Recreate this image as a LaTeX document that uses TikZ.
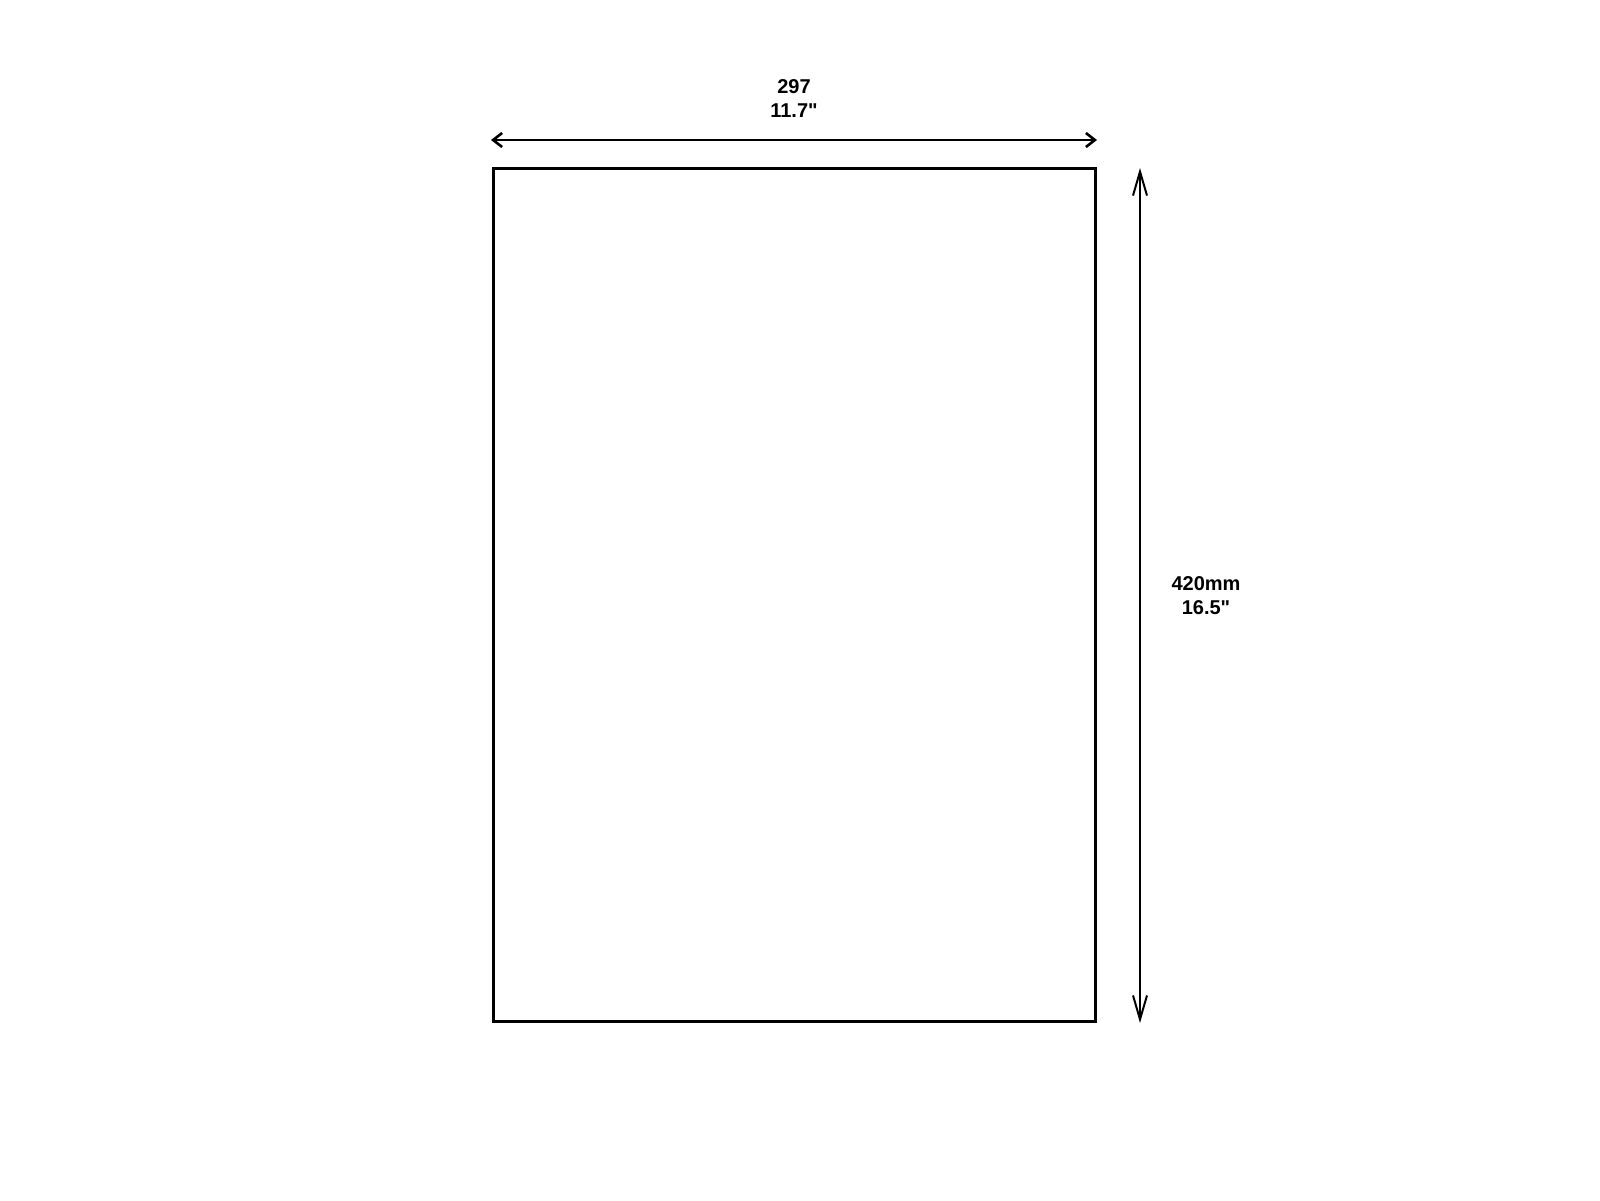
\documentclass[tikz,border=0pt]{standalone}
\usepackage{fontspec}
\setmainfont{Liberation Sans}
\usetikzlibrary{arrows.meta}

\tikzset{every picture/.style={line width=0.75pt}}
\tikzset{dimline/.style={line width=1pt,{Straight Barb[length=4.5pt,width=7pt,line width=1.3pt]}-{Straight Barb[length=4.5pt,width=7pt,line width=1.3pt]}}}
\tikzset{tallline/.style={line width=1pt,{Straight Barb[length=12pt,width=7pt]}-{Straight Barb[length=12pt,width=7pt]}}}
\tikzset{dimtext/.style={inner sep=0.75pt,align=center,font=\fontsize{10}{12}\selectfont\bfseries}}

\begin{document}
\begin{tikzpicture}[x=0.5pt,y=0.5pt,yscale=-1,xscale=1]
\useasboundingbox (0,0) rectangle (1600,1200); %set diagram size 1600 x 1200

%Shape: Rectangle [id:sheet] 
\draw [line width=1.5pt] (493,168.5) rectangle (1095,1021.5) ;

%Straight Lines [id:width] 
\coordinate (wl) at (491,140) ;
\coordinate (wr) at (1097,140) ;
\draw [dimline] (wl) -- (wr) ;

%Straight Lines [id:height] 
\coordinate (ht) at (1140,168) ;
\coordinate (hb) at (1140,1023) ;
\draw [tallline] (ht) -- (hb) ;

% Text Node
\node [dimtext] (wlabel) at (794,99) {297\\11.7\textquotedbl};
% Text Node
\node [dimtext] (hlabel) at (1206,596) {420mm\\16.5\textquotedbl};

\end{tikzpicture}
\end{document}
